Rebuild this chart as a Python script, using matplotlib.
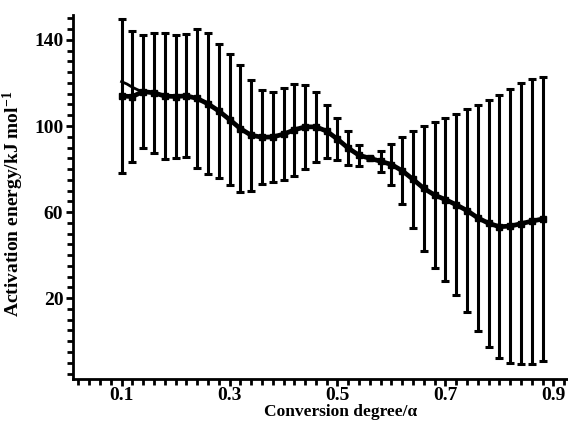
import matplotlib
matplotlib.use("Agg")
import matplotlib.pyplot as plt
from matplotlib.ticker import FixedLocator, MultipleLocator

# conversion degree and mean activation energy (kJ/mol) with error half-widths
alpha = [0.10, 0.12, 0.14, 0.16, 0.18, 0.20, 0.22, 0.24, 0.26, 0.28,
         0.30, 0.32, 0.34, 0.36, 0.38, 0.40, 0.42, 0.44, 0.46, 0.48,
         0.50, 0.52, 0.54, 0.56, 0.58, 0.60, 0.62, 0.64, 0.66, 0.68,
         0.70, 0.72, 0.74, 0.76, 0.78, 0.80, 0.82, 0.84, 0.86, 0.88]
energy = [113.9, 113.7, 116.0, 115.4, 113.9, 113.7, 114.0, 112.8, 110.3, 107.0,
          103.0, 98.8, 95.7, 94.8, 94.9, 96.2, 98.2, 99.6, 99.6, 97.6,
          93.9, 89.7, 86.4, 85.0, 83.6, 82.1, 79.2, 75.2, 71.0, 67.9,
          65.8, 63.4, 60.7, 57.3, 54.8, 53.2, 53.5, 54.6, 55.8, 56.8]
error = [35.9, 30.6, 26.1, 27.8, 29.2, 28.7, 28.6, 32.2, 32.8, 31.0,
         30.4, 29.6, 25.8, 21.9, 20.8, 21.3, 21.3, 19.5, 16.2, 12.3,
         9.7, 7.8, 4.9, 0.8, 4.9, 9.5, 15.6, 22.5, 29.1, 34.1,
         37.9, 42.0, 47.1, 52.5, 57.4, 61.2, 63.6, 65.3, 66.2, 66.1]

# the short upper branch at the start of the curve
start_alpha = [0.10, 0.11, 0.12, 0.13, 0.14]
start_energy = [120.6, 119.5, 118.0, 116.8, 116.0]

plt.rcParams["font.family"] = ["Liberation Serif", "DejaVu Serif"]
plt.rcParams["font.weight"] = "bold"
plt.rcParams["mathtext.fontset"] = "custom"
plt.rcParams["mathtext.rm"] = "Liberation Serif:bold"
plt.rcParams["mathtext.default"] = "rm"

fig = plt.figure(figsize=(5.68, 4.21), dpi=100)
ax = fig.add_axes([0.1285, 0.1, 0.8715, 0.864])

ax.errorbar(alpha, energy, yerr=error, fmt="none", ecolor="black",
            elinewidth=2.2, capsize=3.2, capthick=2.2)
ax.plot(alpha, energy, color="black", linewidth=3.4, marker="s", markersize=3.8)
ax.plot(start_alpha, start_energy, color="black", linewidth=2)

ax.set_xlim(0.01, 0.927)
ax.set_ylim(-17.5, 151.5)

ax.xaxis.set_major_locator(FixedLocator([0.1, 0.3, 0.5, 0.7, 0.9]))
ax.xaxis.set_minor_locator(MultipleLocator(0.02))
ax.yaxis.set_major_locator(FixedLocator([20, 60, 100, 140]))
ax.yaxis.set_minor_locator(MultipleLocator(5))
ax.set_xticklabels(["0.1", "0.3", "0.5", "0.7", "0.9"])
ax.set_yticklabels(["20", "60", "100", "140"])

for side in ["top", "right"]:
    ax.spines[side].set_visible(False)
for side in ["left", "bottom"]:
    ax.spines[side].set_linewidth(2)

ax.tick_params(which="major", direction="out", length=5, width=2,
               labelsize=14, pad=2)
ax.tick_params(axis="x", which="major", pad=1)
ax.tick_params(which="minor", direction="out", length=4, width=2)

ax.set_xlabel("Conversion degree/\u03b1", fontsize=12.5, fontweight="bold")
ax.xaxis.set_label_coords(0.541, -0.068)
ax.set_ylabel("Activation energy/kJ mol$^{-1}$", fontsize=14,
              fontweight="bold")
ax.yaxis.set_label_coords(-0.095, 0.48)

fig.savefig("out.png", dpi=100)
